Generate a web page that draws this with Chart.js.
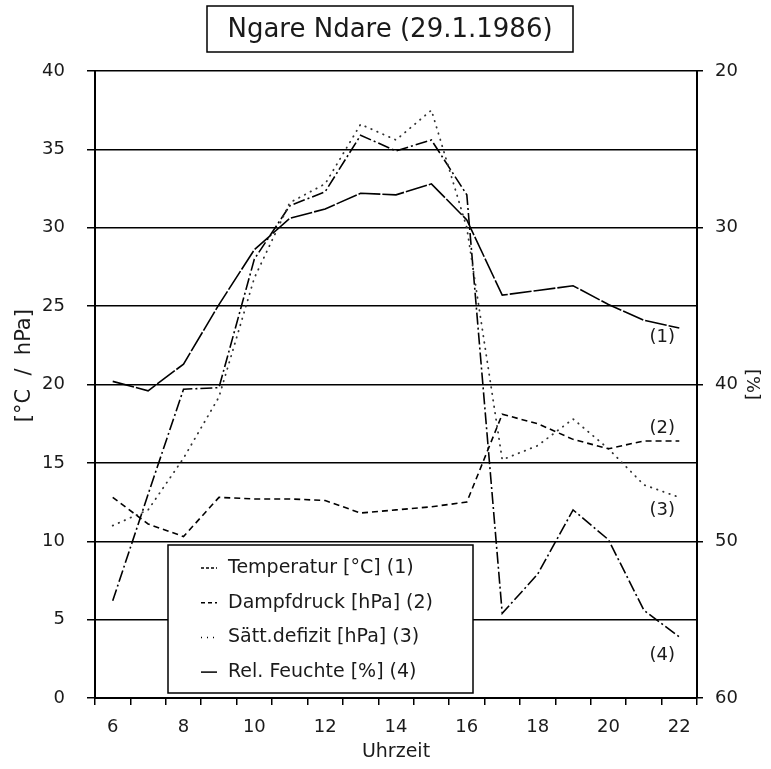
<!DOCTYPE html>
<html><head><meta charset="utf-8">
<script src="https://cdn.jsdelivr.net/npm/chart.js@4/dist/chart.umd.min.js"></script>
<style>html,body{margin:0;padding:0;background:#fff}#wrap{width:771px;height:769px}</style>
</head><body><div id="wrap"><canvas id="c" width="771" height="769"></canvas></div>
<script>
const hours = ['6','7','8','9','10','11','12','13','14','15','16','17','18','19','20','21','22'];
const temperatur   = [20.2, 19.6, 21.3, 25.1, 28.6, 30.6, 31.2, 32.2, 32.1, 32.8, 30.5, 25.7, 26.0, 26.3, 25.1, 24.1, 23.6];
const dampfdruck   = [12.8, 11.1, 10.3, 12.8, 12.7, 12.7, 12.6, 11.8, 12.0, 12.2, 12.5, 18.1, 17.5, 16.5, 15.9, 16.4, 16.4];
const saettDefizit = [11.0, 12.0, 15.3, 19.2, 26.8, 31.6, 32.8, 36.6, 35.6, 37.5, 30.0, 15.2, 16.1, 17.8, 15.9, 13.6, 12.8];
const relFeuchte   = [53.8, 47.0, 40.3, 40.2, 32.0, 28.6, 27.7, 24.1, 25.1, 24.4, 27.9, 54.6, 52.1, 48.0, 49.9, 54.4, 56.1];
const seriesNames  = ['Temperatur [°C] (1)', 'Dampfdruck [hPa] (2)', 'Sätt.defizit [hPa] (3)', 'Rel. Feuchte [%] (4)'];
const endTags      = ['(1)', '(2)', '(3)', '(4)'];
const endTagValues = [23.0, 17.2, 12.0, 2.75];
const titleText    = 'Ngare Ndare (29.1.1986)';
const leftTitle    = '[°C  /  hPa]';
const rightTitle   = '[%]';
const xTitle       = 'Uhrzeit';

const FONT = '"DejaVu Sans", "Liberation Sans", sans-serif';
const INK = '#1a1a1a';
const legendDash = [[3,2],[4,3],[1,5],[]];

const decor = {
  id: 'decor',
  afterDraw(chart) {
    const ctx = chart.ctx, ca = chart.chartArea, ys = chart.scales.y, xs = chart.scales.x;
    ctx.save();
    // title box
    ctx.strokeStyle = '#000'; ctx.lineWidth = 1.5; ctx.setLineDash([]);
    ctx.strokeRect(207, 6, 366, 46);
    ctx.fillStyle = INK; ctx.font = '26px ' + FONT;
    ctx.textAlign = 'center'; ctx.textBaseline = 'middle';
    ctx.fillText(titleText, 390, 30);
    // left axis title
    ctx.save();
    ctx.translate(25, ys.getPixelForValue(21.2));
    ctx.rotate(-Math.PI / 2);
    ctx.font = '21px ' + FONT;
    ctx.fillText(leftTitle, 0, 0);
    ctx.restore();
    // end tags
    ctx.font = '18px ' + FONT;
    const tx = xs.getPixelForValue(hours.length - 1) - 17;
    endTags.forEach((t, i) => ctx.fillText(t, tx, ys.getPixelForValue(endTagValues[i])));
    // legend
    const L = ca.left + 73, T = ca.bottom - 153, W = 305, H = 148;
    ctx.fillStyle = '#fff'; ctx.fillRect(L, T, W, H);
    ctx.strokeStyle = '#000'; ctx.lineWidth = 1.5; ctx.strokeRect(L, T, W, H);
    ctx.textAlign = 'left'; ctx.fillStyle = INK; ctx.font = '19px ' + FONT;
    seriesNames.forEach((n, i) => {
      const yy = T + 23 + i * 34.7;
      ctx.beginPath(); ctx.setLineDash(legendDash[i]); ctx.lineWidth = 1.5;
      ctx.moveTo(L + 33, yy); ctx.lineTo(L + 49, yy); ctx.stroke();
      ctx.setLineDash([]);
      ctx.fillText(n, L + 60, yy);
    });
    ctx.restore();
  }
};

new Chart(document.getElementById('c'), {
  type: 'line',
  data: {
    labels: hours,
    datasets: [
      { label: seriesNames[0], data: temperatur, yAxisID: 'y', borderColor: '#000', borderWidth: 1.6, borderDash: [22, 2], pointRadius: 0, tension: 0 },
      { label: seriesNames[1], data: dampfdruck, yAxisID: 'y', borderColor: '#000', borderWidth: 1.6, borderDash: [6, 4], pointRadius: 0, tension: 0 },
      { label: seriesNames[2], data: saettDefizit, yAxisID: 'y', borderColor: '#333', borderWidth: 1.8, borderDash: [0.5, 6], borderCapStyle: 'round', pointRadius: 0, tension: 0 },
      { label: seriesNames[3], data: relFeuchte, yAxisID: 'y2', borderColor: '#000', borderWidth: 1.6, borderDash: [12, 3, 2, 3], pointRadius: 0, tension: 0 }
    ]
  },
  options: {
    responsive: false, animation: false, devicePixelRatio: 1,
    layout: { padding: { top: 71, left: 0, right: 0, bottom: 0 } },
    plugins: { legend: { display: false }, title: { display: false }, tooltip: { enabled: false } },
    scales: {
      x: {
        type: 'category', offset: true,
        grid: { offset: true, drawOnChartArea: false, drawTicks: true, tickLength: 7, color: '#000', lineWidth: 1.5 },
        border: { color: '#000', width: 2 },
        ticks: { autoSkip: false, maxRotation: 0, color: INK, font: { family: FONT, size: 18 }, padding: 12,
          callback: function(v) { const l = this.getLabelForValue(v); return (parseInt(l) % 2 === 0) ? l : ''; } },
        title: { display: true, text: xTitle, color: INK, font: { family: FONT, size: 19 }, padding: { top: 0, bottom: 6 } },
        afterFit: s => { s.height = 71; }
      },
      y: {
        position: 'left', min: 0, max: 40,
        grid: { color: '#000', lineWidth: 1.5, tickLength: 8 },
        border: { color: '#000', width: 2 },
        ticks: { stepSize: 5, color: INK, font: { family: FONT, size: 18 }, padding: 22 },
        title: { display: false },
        afterFit: s => { s.width = 95; }
      },
      y2: {
        position: 'right', min: 20, max: 60, reverse: true,
        grid: { drawOnChartArea: false, color: '#000', lineWidth: 1.5, tickLength: 6 },
        border: { color: '#000', width: 2 },
        ticks: { stepSize: 10, color: INK, font: { family: FONT, size: 18 }, padding: 12 },
        title: { display: true, text: rightTitle, color: INK, font: { family: FONT, size: 18 }, padding: { top: 9, bottom: 0 } },
        afterFit: s => { s.width = 74; }
      }
    }
  },
  plugins: [decor]
});
</script></body></html>
